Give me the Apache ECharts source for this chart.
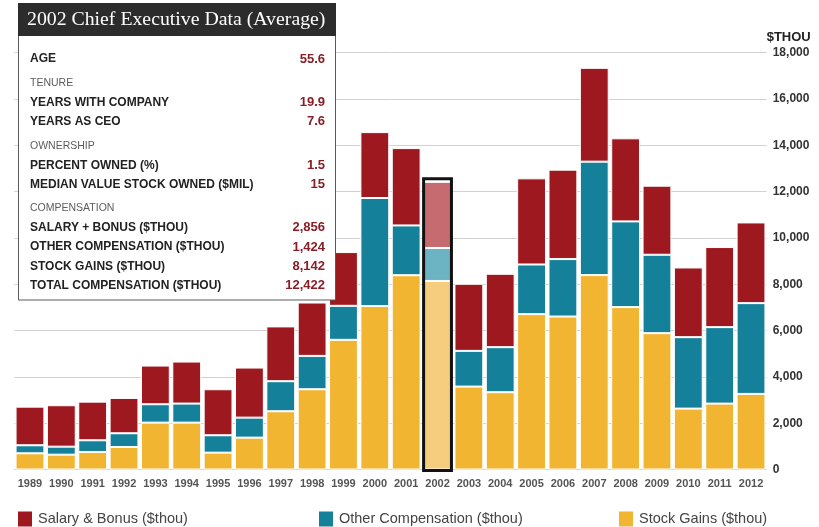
<!DOCTYPE html>
<html>
<head>
<meta charset="utf-8">
<title>Chief Executive Compensation 1989–2012</title>
<script src="https://cdn.jsdelivr.net/npm/echarts@6/dist/echarts.min.js"></script>
<style>
  html, body { margin: 0; padding: 0; background: #fff; }
  #chart { width: 819px; height: 527px; }
</style>
</head>
<body>
<div id="chart"></div>
<script>
// Average CEO pay by year, in thousands of dollars
const years = ['1989','1990','1991','1992','1993','1994','1995','1996','1997','1998','1999','2000',
               '2001','2002','2003','2004','2005','2006','2007','2008','2009','2010','2011','2012'];
const stockGains  = [700, 640, 757, 973, 2024, 2024, 728, 1376, 2515, 3466, 5600, 7060,
                     8390, 8142, 3580, 3338, 6710, 6606, 8396, 7013, 5888, 2629, 2845, 3264];
const otherComp   = [346, 346, 505, 592, 794, 823, 751, 864, 1298, 1441, 1469, 4665,
                     2150, 1424, 1543, 1945, 2144, 2481, 4898, 3701, 3386, 3086, 3303, 3921];
const salaryBonus = [1669, 1789, 1669, 1526, 1670, 1814, 1987, 2162, 2367, 2304, 2321, 2845,
                     3340, 2856, 2897, 3169, 3719, 3862, 4052, 3588, 2983, 3010, 3459, 3485];
const seriesNames = ['Salary & Bonus ($thou)', 'Other Compensation ($thou)', 'Stock Gains ($thou)'];

// Highlighted year and its summary panel
const focusYear = '2002';
const infoTitle = '2002 Chief Executive Data (Average)';
const infoLabels = ['AGE', 'TENURE', 'YEARS WITH COMPANY', 'YEARS AS CEO', 'OWNERSHIP',
                    'PERCENT OWNED (%)', 'MEDIAN VALUE STOCK OWNED ($MIL)', 'COMPENSATION',
                    'SALARY + BONUS ($THOU)', 'OTHER COMPENSATION ($THOU)', 'STOCK GAINS ($THOU)',
                    'TOTAL COMPENSATION ($THOU)'];
const infoValues = ['55.6', '', '19.9', '7.6', '', '1.5', '15', '', '2,856', '1,424', '8,142', '12,422'];
const infoHeaders = [false, true, false, false, true, false, false, true, false, false, false, false];

const COLORS = { salary: '#9e1820', other: '#15809a', stock: '#f1b531' };
const LIGHT  = { salary: '#c66c71', other: '#6cb4c4', stock: '#f6cd7f' };

const focusIdx = years.indexOf(focusYear);
const sansFont = '"Liberation Sans", Arial, sans-serif';

function withFocus(values, light) {
  return values.map((v, i) => i === focusIdx ? { value: v, itemStyle: { color: light } } : v);
}

// Summary panel drawn as graphic elements, on its own layer above the plot
function buildPanel() {
  const els = [];
  const left = 18.5, top = 3.5, w = 317, h = 296.5;
  els.push({ type: 'rect', z: 100, shape: { x: left, y: top, width: w, height: h },
             style: { fill: '#fff', stroke: '#5a5a5a', lineWidth: 1 } });
  els.push({ type: 'rect', z: 101, shape: { x: left - 0.5, y: top - 0.5, width: w + 1, height: 33 },
             style: { fill: '#2c2c2c' } });
  els.push({ type: 'text', z: 102, x: 27, y: 20,
             style: { text: infoTitle, fill: '#fff', font: '19.8px "Liberation Serif", Georgia, serif',
                      verticalAlign: 'middle', align: 'left' } });
  let y = 59;
  infoLabels.forEach((label, i) => {
    if (infoHeaders[i]) {
      els.push({ type: 'text', z: 102, x: 30, y: y,
                 style: { text: label, fill: '#5c5c5c', font: '10.5px ' + sansFont,
                          verticalAlign: 'middle', align: 'left' } });
    } else {
      els.push({ type: 'text', z: 102, x: 30, y: y,
                 style: { text: label, fill: '#222', font: 'bold 12px ' + sansFont,
                          verticalAlign: 'middle', align: 'left' } });
      els.push({ type: 'text', z: 102, x: 325, y: y,
                 style: { text: infoValues[i], fill: '#8a1d25', font: 'bold 13px ' + sansFont,
                          verticalAlign: 'middle', align: 'right' } });
    }
    const next = infoHeaders[i + 1];
    if (infoHeaders[i]) y += 19.5;
    else if (next) y += 24;
    else y += 19.2;
  });
  return { elements: els, zlevel: 5, z: 100 };
}

function legendAt(name, left) {
  return {
    data: [name], left: left, top: 509.5, padding: 0, icon: 'rect', itemWidth: 16, itemHeight: 17,
    itemGap: 0, selectedMode: false,
    textStyle: { fontSize: 14.5, color: '#444', fontFamily: sansFont }
  };
}

const chart = echarts.init(document.getElementById('chart'), null, { renderer: 'canvas' });

const focusTotal = [salaryBonus[focusIdx] + otherComp[focusIdx] + stockGains[focusIdx]];

chart.setOption({
  animation: false,
  backgroundColor: '#fff',
  grid: { left: 14.3, right: 52.3, top: 52.7, bottom: 57.5, containLabel: false },
  legend: [
    legendAt(seriesNames[0], 16),
    legendAt(seriesNames[1], 317),
    legendAt(seriesNames[2], 617)
  ],
  xAxis: {
    type: 'category', data: years,
    axisLine: { show: false }, axisTick: { show: false },
    axisLabel: { fontSize: 11, fontWeight: 'bold', color: '#555', fontFamily: sansFont, margin: 9, interval: 0 }
  },
  yAxis: {
    type: 'value', position: 'right', min: 0, max: 18000, interval: 2000,
    name: '$THOU', nameLocation: 'end', nameGap: 9,
    nameTextStyle: { fontSize: 13, fontWeight: 'bold', color: '#222', fontFamily: sansFont, align: 'left', padding: 0 },
    axisLine: { show: false }, axisTick: { show: false },
    splitLine: { lineStyle: { color: '#d2d2d2', width: 1 } },
    axisLabel: { fontSize: 12, fontWeight: 'bold', color: '#333', fontFamily: sansFont, margin: 6,
                 formatter: v => v.toLocaleString('en-US') }
  },
  series: [
    { name: seriesNames[2], type: 'bar', stack: 'pay', barCategoryGap: '8%',
      itemStyle: { color: COLORS.stock, borderColor: '#fff', borderWidth: 1 },
      data: withFocus(stockGains, LIGHT.stock) },
    { name: seriesNames[1], type: 'bar', stack: 'pay',
      itemStyle: { color: COLORS.other, borderColor: '#fff', borderWidth: 1 },
      data: withFocus(otherComp, LIGHT.other) },
    { name: seriesNames[0], type: 'bar', stack: 'pay',
      itemStyle: { color: COLORS.salary, borderColor: '#fff', borderWidth: 1 },
      data: withFocus(salaryBonus, LIGHT.salary) },
    { // outline around the highlighted year's full stack
      type: 'custom', z: 10, silent: true,
      data: [[focusIdx, focusTotal[0]]],
      renderItem: function (params, api) {
        const topPt = api.coord([api.value(0), api.value(1)]);
        const basePt = api.coord([api.value(0), 0]);
        const w = api.size([1, 0])[0] * 0.92;
        return {
          type: 'rect',
          shape: { x: topPt[0] - w / 2 + 0.5, y: topPt[1] - 3, width: w - 1, height: basePt[1] - topPt[1] + 4 },
          style: { fill: 'none', stroke: '#111', lineWidth: 3 }
        };
      }
    }
  ],
  graphic: buildPanel()
});
</script>
</body>
</html>
